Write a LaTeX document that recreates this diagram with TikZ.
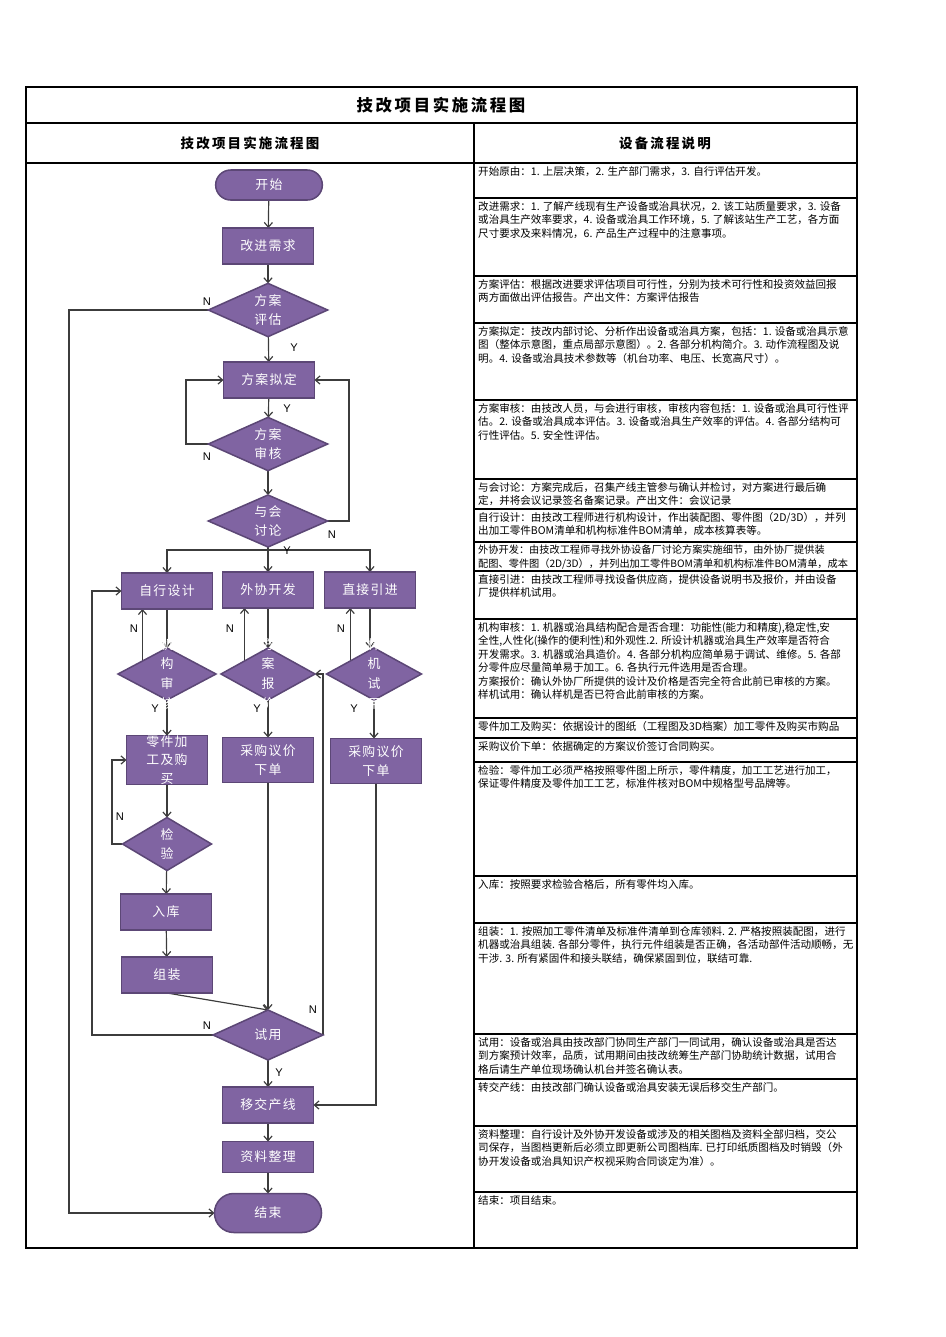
\documentclass[tikz,border=0pt]{standalone}
\usepackage{fontspec}
\setmainfont{Noto Sans CJK SC}
\newfontfamily\ynfont{Liberation Sans}
\newfontfamily\flowfont[LetterSpace=10]{Noto Sans CJK SC}
\newfontfamily\headfont[LetterSpace=16]{Noto Sans CJK SC}
\usetikzlibrary{shapes.geometric,arrows.meta}
\definecolor{flowfill}{HTML}{8064A2}
\definecolor{flowedge}{HTML}{5C4776}
\definecolor{wiregray}{HTML}{3C3C3C}
\pgfdeclarelayer{wires}
\pgfsetlayers{wires,main}

\begin{document}
\begin{tikzpicture}[x=0.03cm,y=-0.03cm,
	flowbox/.style={draw=flowedge,fill=flowfill,line width=1.3pt,text=white,font=\flowfont\fontsize{11}{15.5}\selectfont,align=center,inner sep=0pt,outer sep=0pt,minimum width=2.73cm,minimum height=1.08cm},
	flowend/.style={flowbox,rounded corners=0.45cm,minimum width=3.2cm,minimum height=0.9cm},
	flowdia/.style={diamond,draw=flowedge,fill=flowfill,line width=1.3pt,inner sep=0pt,outer sep=0pt,minimum width=3.58cm,minimum height=1.6cm},
	diatext/.style={text=white,font=\flowfont\fontsize{11}{16.5}\selectfont,align=center,inner sep=0pt},
	wire/.style={draw=wiregray,line width=1pt,-{Straight Barb[length=4pt,width=7pt]}},
	plain/.style={draw=wiregray,line width=1pt},
	yn/.style={font=\ynfont\fontsize{9.5}{10}\selectfont,inner sep=0pt},
	note/.style={anchor=north west,align=left,inner sep=0pt,font=\fontsize{9}{11.5}\selectfont}]
\useasboundingbox (0,0) rectangle (945,1337);

% table frame
\draw[line width=2pt] (26,87) rectangle (857,1248);
\draw[line width=2pt] (26,123) -- (857,123);
\draw[line width=2pt] (26,163) -- (857,163);
\draw[line width=2pt] (474,123) -- (474,1248);
\foreach \y in {198,276,323,400,479,509,542,571,619,718,738,762,876,923,1034,1079,1126,1192}
	\draw[line width=2pt] (474,\y) -- (857,\y);

\node[font=\headfont\bfseries\fontsize{14}{15}\selectfont] (title) at (441,105) {技改项目实施流程图};
\node[font=\headfont\bfseries\fontsize{11.5}{12}\selectfont] (lefthead) at (250,143) {技改项目实施流程图};
\node[font=\headfont\bfseries\fontsize{11.5}{12}\selectfont] (righthead) at (665,143) {设备流程说明};

% flow chart
\node[flowend] (start) at (269,185) {开始};
\node[flowbox] (need) at (268,246) {改进需求};
\node[flowdia] (eval) at (268,310) {};
\node[flowbox] (plan) at (269,380) {方案拟定};
\node[flowdia] (review) at (268,444) {};
\node[flowdia,minimum height=1.56cm] (meet) at (268,521) {};
\node[flowbox] (self) at (167,591) {自行设计};
\node[flowbox] (outsrc) at (268,590) {外协开发};
\node[flowbox] (buy) at (370,590) {直接引进};
\node[flowdia,minimum width=2.94cm,minimum height=1.56cm] (d1) at (167,674) {};
\node[flowdia,minimum width=2.82cm,minimum height=1.56cm] (d2) at (268,674) {};
\node[flowdia,minimum width=2.85cm,minimum height=1.56cm] (d3) at (374,674) {};
\node[flowbox,minimum width=2.43cm,minimum height=1.35cm,font=\flowfont\fontsize{11}{15.7}\selectfont] (part) at (167,760) {零件加\\工及购\\买};
\node[flowbox,minimum height=1.35cm,font=\flowfont\fontsize{11}{16}\selectfont] (price1) at (268,760) {采购议价\\下单};
\node[flowbox,minimum height=1.35cm,font=\flowfont\fontsize{11}{16}\selectfont] (price2) at (376,761) {采购议价\\下单};
\node[flowdia,minimum width=2.67cm,minimum height=1.59cm] (check) at (167,844) {};
\node[flowbox] (store) at (166,912) {入库};
\node[flowbox] (assemble) at (167,975) {组装};
\node[flowdia,minimum width=3.3cm,minimum height=1.5cm] (trial) at (268,1035) {};
\node[flowbox] (transfer) at (268,1105) {移交产线};
\node[flowbox,minimum height=0.93cm] (archive) at (268,1157) {资料整理};
\node[flowend,minimum width=3.21cm,minimum height=1.17cm,rounded corners=0.58cm] (finish) at (268,1213) {结束};

\node[diatext] (evaltext) at (eval) {方案\\评估};
\node[diatext] (reviewtext) at (review) {方案\\审核};
\node[diatext] (meettext) at (meet) {与会\\讨论};
\node[diatext,font=\flowfont\fontsize{11}{17}\selectfont] (d1text) at (d1) {机\\构\\审\\核};
\node[diatext,font=\flowfont\fontsize{11}{17}\selectfont] (d2text) at (d2) {方\\案\\报\\价};
\node[diatext,font=\flowfont\fontsize{11}{17}\selectfont] (d3text) at (d3) {样\\机\\试\\用};
\node[diatext] (checktext) at (check) {检\\验};
\node[diatext] (trialtext) at (trial) {试用};

\coordinate (split) at (268,550);
\begin{pgfonlayer}{wires}
\draw[wire] (start) -- (need);
\draw[wire] (need) -- (eval);
\draw[wire] (eval) -- (plan);
\draw[wire] (eval.west) -- (69,310) |- (finish.west);
\draw[wire] (plan) -- (review);
\draw[wire] (review.west) -- (186,444) |- (plan.west);
\draw[wire] (review) -- (meet);
\draw[wire] (meet.east) -- (349,521) |- (plan.east);
\draw[plain] (meet.south) -- (split);
\draw[wire] (split) -| (self.north);
\draw[wire] (split) -- (outsrc.north);
\draw[wire] (split) -| (buy.north);
\draw[wire] (self.south) -- (d1.north);
\draw[wire] (outsrc.south) -- (d2.north);
\draw[wire] (buy.south) -- (buy.south |- d3.north);
\draw[wire] (d1.north west) -- (d1.north west |- self.south);
\draw[wire] (d2.north west) -- (d2.north west |- outsrc.south);
\draw[wire] (d3.north west) -- (d3.north west |- buy.south);
\draw[wire] (d1.south) -- (part.north);
\draw[wire] (d2.south) -- (price1.north);
\draw[wire] (d3.south) -- (d3.south |- price2.north);
\draw[wire] (part) -- (check);
\draw[wire] (check.west) -- (112,844) |- (part.west);
\draw[wire] (check) -- (store);
\draw[wire] (store) -- (assemble);
\draw[wire] (assemble.south) -- (trial.north);
\draw[wire] (price1.south) -- (trial.north);
\draw[wire] (price2.south) |- (transfer.east);
\draw[wire] (trial.west) -- (92,1035) |- (self.west);
\draw[wire] (trial.east) -- (trial.east |- d2.east) -- (d2.east);
\draw[wire] (trial) -- (transfer);
\draw[wire] (transfer) -- (archive);
\draw[wire] (archive) -- (finish);
\end{pgfonlayer}

\node[yn] (n1) at (207,302) {N};
\node[yn] (y1) at (294,348) {Y};
\node[yn] (y2) at (287,409) {Y};
\node[yn] (n2) at (207,457) {N};
\node[yn] (n3) at (332,535) {N};
\node[yn] (y3) at (287,551) {Y};
\node[yn] (n4) at (134,629) {N};
\node[yn] (n5) at (230,629) {N};
\node[yn] (n6) at (341,629) {N};
\node[yn] (y4) at (155,709) {Y};
\node[yn] (y5) at (257,709) {Y};
\node[yn] (y6) at (354,709) {Y};
\node[yn] (n7) at (120,817) {N};
\node[yn] (n8) at (207,1026) {N};
\node[yn] (n9) at (313,1010) {N};
\node[yn] (y7) at (279,1073) {Y};

% notes
\node[note] (r1) at (478,166) {开始原由：1. 上层决策，2. 生产部门需求，3. 自行评估开发。};
\node[note] (r2) at (478,201) {改进需求：1. 了解产线现有生产设备或治具状况，2. 该工站质量要求，3. 设备\\或治具生产效率要求，4. 设备或治具工作环境，5. 了解该站生产工艺，各方面\\尺寸要求及来料情况，6. 产品生产过程中的注意事项。};
\node[note] (r3) at (478,279) {方案评估：根据改进要求评估项目可行性，分别为技术可行性和投资效益回报\\两方面做出评估报告。产出文件：方案评估报告};
\node[note] (r4) at (478,326) {方案拟定：技改内部讨论、分析作出设备或治具方案，包括：1. 设备或治具示意\\图（整体示意图，重点局部示意图）。2. 各部分机构简介。3. 动作流程图及说\\明。4. 设备或治具技术参数等（机台功率、电压、长宽高尺寸）。};
\node[note] (r5) at (478,403) {方案审核：由技改人员，与会进行审核，审核内容包括：1. 设备或治具可行性评\\估。2. 设备或治具成本评估。3. 设备或治具生产效率的评估。4. 各部分结构可\\行性评估。5. 安全性评估。};
\node[note] (r6) at (478,482) {与会讨论：方案完成后，召集产线主管参与确认并检讨，对方案进行最后确\\定，并将会议记录签名备案记录。产出文件：会议记录};
\node[note] (r7) at (478,512) {自行设计：由技改工程师进行机构设计，作出装配图、零件图（2D/3D），并列\\出加工零件BOM清单和机构标准件BOM清单，成本核算表等。};
\node[note,font=\fontsize{8.7}{11.5}\selectfont] (r8) at (478,545) {外协开发：由技改工程师寻找外协设备厂讨论方案实施细节，由外协厂提供装\\配图、零件图（2D/3D），并列出加工零件BOM清单和机构标准件BOM清单，成本};
\node[note] (r9) at (478,574) {直接引进：由技改工程师寻找设备供应商，提供设备说明书及报价，并由设备\\厂提供样机试用。};
\node[note] (r10) at (478,622) {机构审核：1. 机器或治具结构配合是否合理：功能性(能力和精度),稳定性,安\\全性,人性化(操作的便利性)和外观性.2. 所设计机器或治具生产效率是否符合\\开发需求。3. 机器或治具造价。4. 各部分机构应简单易于调试、维修。5. 各部\\分零件应尽量简单易于加工。6. 各执行元件选用是否合理。\\方案报价：确认外协厂所提供的设计及价格是否完全符合此前已审核的方案。\\样机试用：确认样机是否已符合此前审核的方案。};
\node[note] (r11) at (478,721) {零件加工及购买：依据设计的图纸（工程图及3D档案）加工零件及购买市购品};
\node[note] (r12) at (478,741) {采购议价下单：依据确定的方案议价签订合同购买。};
\node[note] (r13) at (478,765) {检验：零件加工必须严格按照零件图上所示，零件精度，加工工艺进行加工，\\保证零件精度及零件加工工艺，标准件核对BOM中规格型号品牌等。};
\node[note] (r14) at (478,879) {入库：按照要求检验合格后，所有零件均入库。};
\node[note] (r15) at (478,926) {组装：1. 按照加工零件清单及标准件清单到仓库领料. 2. 严格按照装配图，进行\\机器或治具组装. 各部分零件，执行元件组装是否正确，各活动部件活动顺畅，无\\干涉. 3. 所有紧固件和接头联结，确保紧固到位，联结可靠.};
\node[note] (r16) at (478,1037) {试用：设备或治具由技改部门协同生产部门一同试用，确认设备或治具是否达\\到方案预计效率，品质，试用期间由技改统筹生产部门协助统计数据，试用合\\格后请生产单位现场确认机台并签名确认表。};
\node[note] (r17) at (478,1082) {转交产线：由技改部门确认设备或治具安装无误后移交生产部门。};
\node[note] (r18) at (478,1129) {资料整理：自行设计及外协开发设备或涉及的相关图档及资料全部归档，交公\\司保存，当图档更新后必须立即更新公司图档库. 已打印纸质图档及时销毁（外\\协开发设备或治具知识产权视采购合同谈定为准）。};
\node[note] (r19) at (478,1195) {结束：项目结束。};
\end{tikzpicture}
\end{document}
